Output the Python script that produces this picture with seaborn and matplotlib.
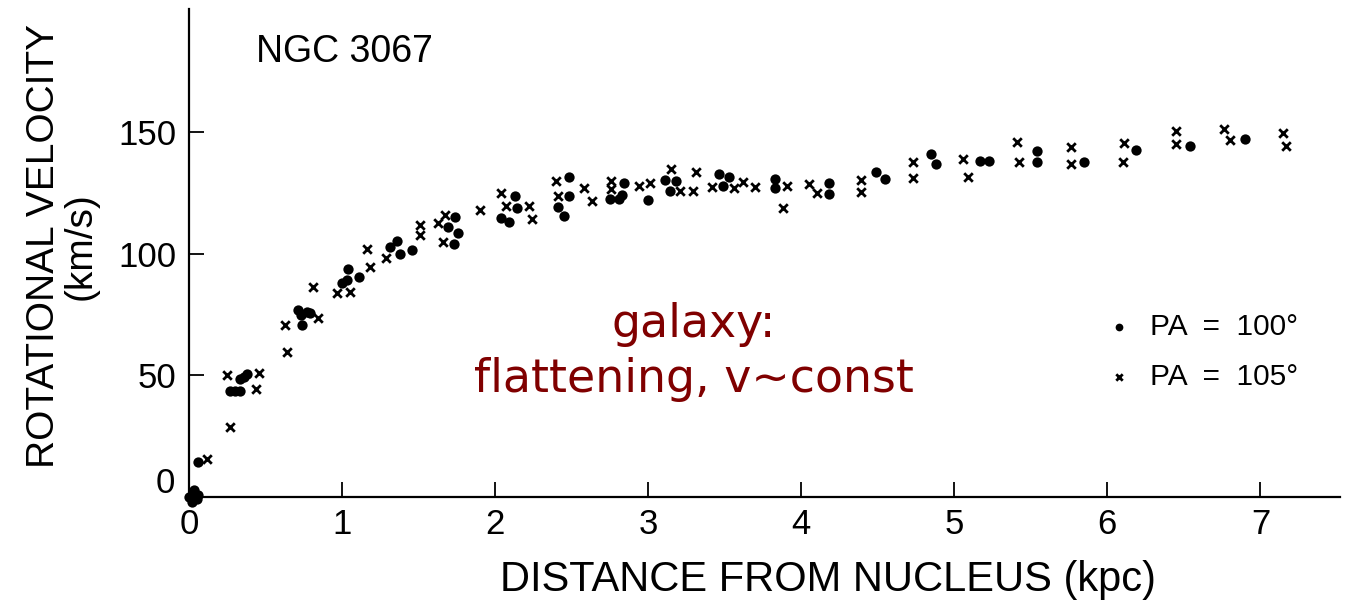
import matplotlib
matplotlib.use("Agg")
import matplotlib.pyplot as plt
import seaborn as sns
import pandas as pd

# Rotation curve of NGC 3067 along two position angles
dist_pa100 = [0.00, 0.03, 0.06, 0.02, 0.05, 0.06,
              0.27, 0.30, 0.33, 0.33, 0.36, 0.38,
              0.71, 0.73, 0.74, 0.77, 0.79,
              1.00, 1.03, 1.04, 1.11,
              1.31, 1.36, 1.38, 1.46,
              1.69, 1.74, 1.76, 1.73,
              2.04, 2.09, 2.13, 2.14,
              2.41, 2.45, 2.48, 2.48,
              2.75, 2.81, 2.83, 2.84, 3.00,
              3.11, 3.14, 3.18,
              3.46, 3.49, 3.53,
              3.83, 3.83, 4.18, 4.18,
              4.49, 4.55, 4.85, 4.88,
              5.17, 5.23, 5.54, 5.54,
              5.85, 6.19, 6.54, 6.90]
vel_pa100 = [0.0, 3.0, 1.0, -2.0, -1.0, 14.2,
             43.5, 43.5, 43.5, 48.5, 49.4, 50.5,
             76.8, 74.8, 70.7, 76.1, 75.5,
             87.8, 89.2, 93.5, 90.3,
             102.8, 105.2, 99.8, 101.5,
             111.1, 115.2, 108.6, 103.9,
             114.5, 112.9, 123.8, 118.6,
             119.0, 115.6, 123.8, 131.6,
             122.3, 122.4, 124.1, 129.1, 122.0,
             130.2, 125.8, 130.0,
             132.7, 127.8, 131.3,
             130.6, 126.8, 129.1, 124.4,
             133.4, 130.6, 140.9, 136.7,
             138.2, 138.2, 142.2, 137.6,
             137.5, 142.6, 144.2, 147.1]

dist_pa105 = [0.115,
              0.25, 0.27, 0.44, 0.46,
              0.63, 0.64, 0.81, 0.84,
              0.97, 1.05,
              1.16, 1.18, 1.29,
              1.51, 1.51, 1.63, 1.66, 1.67,
              1.90,
              2.04, 2.07, 2.22, 2.24,
              2.40, 2.41, 2.58, 2.63,
              2.76, 2.76, 2.94, 3.01,
              3.15, 3.21, 3.29, 3.31,
              3.42, 3.56, 3.62, 3.70,
              3.88, 3.91, 4.05, 4.10,
              4.39, 4.39, 4.73, 4.73,
              5.06, 5.09, 5.41, 5.42,
              5.76, 5.76, 6.10, 6.11,
              6.45, 6.45, 6.76, 6.80,
              7.15, 7.17]
vel_pa105 = [15.5,
             50.1, 28.9, 44.2, 51.0,
             70.7, 59.7, 86.4, 73.4,
             83.8, 84.4,
             101.9, 94.6, 98.1,
             111.8, 107.6, 112.7, 104.9, 115.9,
             117.9,
             124.8, 119.6, 119.6, 114.1,
             130.0, 123.8, 126.8, 121.7,
             129.8, 126.4, 127.8, 128.9,
             134.6, 125.7, 125.7, 133.7,
             127.5, 126.8, 129.5, 127.5,
             118.6, 127.8, 128.6, 124.8,
             130.2, 125.3, 137.6, 130.9,
             138.9, 131.6, 145.7, 137.6,
             143.9, 136.7, 137.5, 145.6,
             150.4, 144.9, 151.1, 146.7,
             149.7, 144.3]

series_labels = ["PA  =  100°", "PA  =  105°"]
x_ticks = [0, 1, 2, 3, 4, 5, 6, 7]
y_ticks = [50, 100, 150]

sns.set_theme(style="ticks")
plt.rcParams["font.family"] = ["Liberation Sans", "DejaVu Sans"]

df100 = pd.DataFrame({"dist": dist_pa100, "vel": vel_pa100})
df105 = pd.DataFrame({"dist": dist_pa105, "vel": vel_pa105})

fig = plt.figure(figsize=(13.47, 6.04), dpi=100)
ax = fig.add_axes([189 / 1347, 107 / 604, 1151 / 1347, 488 / 604])

sns.scatterplot(data=df100, x="dist", y="vel", ax=ax, marker="o", s=55,
                color="black", edgecolor="black", linewidth=0,
                label=series_labels[0], clip_on=False, zorder=3)
sns.scatterplot(data=df105, x="dist", y="vel", ax=ax, marker="x", s=38,
                color="black", linewidth=2.0,
                label=series_labels[1], clip_on=False, zorder=3)

ax.set_xlim(0, 7.52)
ax.set_ylim(0, 200.5)
ax.set_xticks(x_ticks)
ax.set_yticks(y_ticks)
ax.set_xticklabels([str(t) for t in x_ticks], fontsize=25)
ax.set_yticklabels([str(t) for t in y_ticks], fontsize=25)
ax.tick_params(axis="both", direction="in", length=11, width=1.3,
               color="black", labelcolor="black")
ax.tick_params(axis="x", pad=8)
ax.tick_params(axis="y", pad=9)

# zero of the velocity axis sits a little above the baseline
ax.text(-0.012, 5.7, "0", transform=ax.get_yaxis_transform(),
        ha="right", va="center", fontsize=25, color="black")

for side in ("top", "right"):
    ax.spines[side].set_visible(False)
for side in ("left", "bottom"):
    ax.spines[side].set_color("black")
    ax.spines[side].set_linewidth(1.6)

ax.set_xlabel("DISTANCE FROM NUCLEUS (kpc)", fontsize=30, color="black")
ax.xaxis.set_label_coords(0.555, -0.170)
ax.xaxis.label.set_va("center")

ax.set_ylabel("ROTATIONAL VELOCITY\n(km/s)", fontsize=28, color="black",
              linespacing=1.05)
ax.yaxis.set_label_coords(-0.110, 0.515)
ax.yaxis.label.set_va("center")

ax.text(0.44, 182.8, "NGC 3067", ha="left", va="center", fontsize=27,
        color="black")

ax.text(3.30, 59.5, "galaxy:\nflattening, v~const", ha="center",
        va="center", fontsize=33, color="#800000", family="DejaVu Sans",
        linespacing=1.28)

leg = ax.legend(loc="upper left", bbox_to_anchor=(0.795, 0.378),
                frameon=False, fontsize=21.5, handlelength=1.0,
                handletextpad=0.55, borderpad=0, borderaxespad=0,
                labelspacing=0.75, markerscale=0.75)
for txt in leg.get_texts():
    txt.set_color("black")

fig.savefig("out.png", dpi=100, facecolor="white")
